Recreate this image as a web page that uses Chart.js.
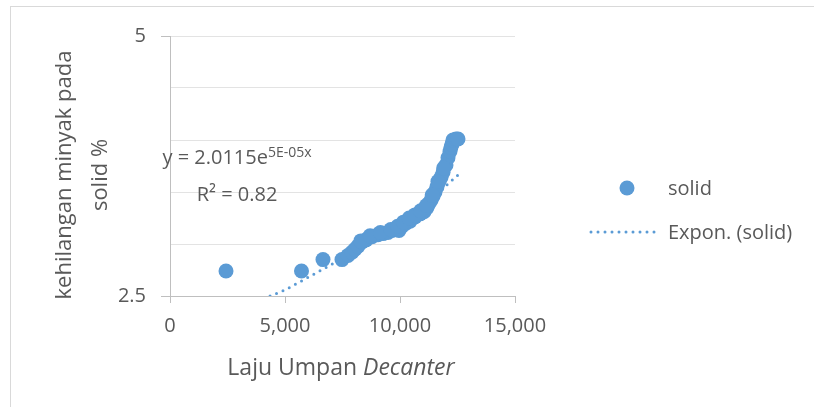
<!DOCTYPE html>
<html>
<head>
<meta charset="utf-8">
<script src="https://cdn.jsdelivr.net/npm/chart.js@4.4.1/dist/chart.umd.min.js"></script>
<style>
  body { margin: 0; background: #fff; }
  canvas { display: block; }
</style>
</head>
<body>
<canvas id="chart" width="814" height="407"></canvas>
<script>
// feed rate (x) vs oil loss in solids (y)
const xVals = [2435, 5717, 6652, 7478, 7739, 7913, 8043, 8174, 8348, 8522, 8783, 9043, 9261, 9478, 9652, 9826, 9957,
    10087, 10261, 10435, 10652, 10870, 11043, 11174, 11261, 11348, 11435, 11522, 11609, 11696, 11783, 11870,
    12000, 12087, 12174, 12217, 12261, 12304, 12435, 12522,
    8300, 8700, 9150, 9600, 9900, 10150, 10400, 10650, 10900, 11150, 11400, 11650, 11900];
const yVals = [2.74, 2.74, 2.85, 2.85, 2.89, 2.92, 2.95, 2.98, 3.02, 3.04, 3.07, 3.09, 3.10, 3.11, 3.13, 3.14, 3.13,
    3.17, 3.20, 3.22, 3.26, 3.29, 3.31, 3.35, 3.39, 3.42, 3.46, 3.50, 3.55, 3.60, 3.64, 3.69,
    3.76, 3.83, 3.89, 3.93, 3.96, 4.00, 4.01, 4.01,
    3.03, 3.08, 3.11, 3.14, 3.17, 3.21, 3.25, 3.28, 3.32, 3.37, 3.47, 3.60, 3.73];

// exponential trendline, points (middle part hidden by the markers)
const trendX = [4350, 5000, 6000, 7000, 8000, 9000, 10000, 11000, 12000, 12500];
const trendY = [2.50, 2.56, 2.68, 2.80, 2.93, 3.07, 3.20, 3.36, 3.56, 3.66];

const yLabelTicks = [2.5, 5];

const BLUE = '#5B9BD5';
const TEXT = '#595959';
const FONT = '"Open Sans", sans-serif';

const scatterData = xVals.map((x, i) => ({ x: x, y: yVals[i] }));
const trendData = trendX.map((x, i) => ({ x: x, y: trendY[i] }));

const extrasPlugin = {
    id: 'extras',
    beforeDraw(chart) {
        const ctx = chart.ctx;
        ctx.save();
        ctx.fillStyle = '#fff';
        ctx.fillRect(0, 0, chart.width, chart.height);
        ctx.strokeStyle = '#D9D9D9';
        ctx.lineWidth = 1;
        ctx.strokeRect(10.5, 6.5, 900, 500);
        ctx.restore();
    },
    afterDraw(chart) {
        const ctx = chart.ctx;
        ctx.save();
        ctx.fillStyle = TEXT;

        // y axis title, two lines
        ctx.save();
        ctx.translate(0, 175);
        ctx.rotate(-Math.PI / 2);
        ctx.font = '22px ' + FONT;
        ctx.textAlign = 'center';
        ctx.textBaseline = 'alphabetic';
        ctx.fillText('kehilangan minyak pada', 0, 71);
        ctx.fillText('solid %', 0, 107);
        ctx.restore();

        // x axis title with italic part
        ctx.textBaseline = 'alphabetic';
        ctx.textAlign = 'left';
        const partA = 'Laju Umpan ';
        const partB = 'Decanter';
        ctx.font = '23px ' + FONT;
        const wA = ctx.measureText(partA).width;
        ctx.font = 'italic 23px ' + FONT;
        const wB = ctx.measureText(partB).width;
        let sx = 341 - (wA + wB) / 2;
        ctx.font = '23px ' + FONT;
        ctx.fillText(partA, sx, 375);
        ctx.font = 'italic 23px ' + FONT;
        ctx.fillText(partB, sx + wA, 375);

        // trendline equation
        const base = 'y = 2.0115e';
        const sup = '5E-05x';
        ctx.font = '20px ' + FONT;
        const wBase = ctx.measureText(base).width;
        ctx.font = '14px ' + FONT;
        const wSup = ctx.measureText(sup).width;
        const ex = 237 - (wBase + wSup) / 2;
        ctx.font = '20px ' + FONT;
        ctx.fillText(base, ex, 164);
        ctx.font = '14px ' + FONT;
        ctx.fillText(sup, ex + wBase, 157);
        ctx.font = '20px ' + FONT;
        ctx.textAlign = 'center';
        ctx.fillText('R² = 0.82', 237, 201);

        // legend
        ctx.fillStyle = BLUE;
        ctx.beginPath();
        ctx.arc(627, 188, 7.5, 0, Math.PI * 2);
        ctx.fill();
        ctx.strokeStyle = BLUE;
        ctx.lineWidth = 3;
        ctx.lineCap = 'round';
        ctx.setLineDash([0, 7]);
        ctx.beginPath();
        ctx.moveTo(591, 232);
        ctx.lineTo(660, 232);
        ctx.stroke();
        ctx.setLineDash([]);
        ctx.fillStyle = TEXT;
        ctx.textAlign = 'left';
        ctx.font = '20px ' + FONT;
        ctx.fillText('solid', 668, 195);
        ctx.fillText('Expon. (solid)', 668, 239);
        ctx.restore();
    }
};

new Chart(document.getElementById('chart'), {
    type: 'scatter',
    data: {
        datasets: [
            {
                label: 'solid',
                data: scatterData,
                backgroundColor: BLUE,
                borderColor: BLUE,
                borderWidth: 0,
                pointRadius: 7.5,
                pointHoverRadius: 7.5
            },
            {
                label: 'Expon. (solid)',
                type: 'line',
                data: trendData,
                borderColor: BLUE,
                borderWidth: 3,
                borderDash: [0, 7],
                borderCapStyle: 'round',
                pointRadius: 0,
                fill: false,
                cubicInterpolationMode: 'monotone'
            }
        ]
    },
    options: {
        responsive: false,
        devicePixelRatio: 1,
        animation: false,
        layout: { padding: { top: 36, right: 299, bottom: 0, left: 0 } },
        plugins: {
            legend: { display: false },
            tooltip: { enabled: false }
        },
        scales: {
            x: {
                type: 'linear',
                min: 0,
                max: 15000,
                ticks: {
                    stepSize: 5000,
                    color: TEXT,
                    font: { family: FONT, size: 20 },
                    padding: 11,
                    maxRotation: 0
                },
                grid: {
                    drawOnChartArea: false,
                    tickLength: 7,
                    tickColor: '#BFBFBF'
                },
                border: { color: '#BFBFBF' },
                afterFit(scale) { scale.height = 111; }
            },
            y: {
                min: 2.5,
                max: 5,
                ticks: {
                    stepSize: 0.5,
                    color: TEXT,
                    font: { family: FONT, size: 20 },
                    padding: 15,
                    callback: (v) => yLabelTicks.includes(v) ? String(v) : ''
                },
                grid: {
                    color: '#E3E3E3',
                    tickLength: 9,
                    tickColor: (c) => c.tick && yLabelTicks.includes(c.tick.value) ? '#BFBFBF' : 'rgba(0,0,0,0)'
                },
                border: { color: '#BFBFBF' },
                afterFit(scale) { scale.width = 170; }
            }
        }
    },
    plugins: [extrasPlugin]
});
</script>
</body>
</html>
